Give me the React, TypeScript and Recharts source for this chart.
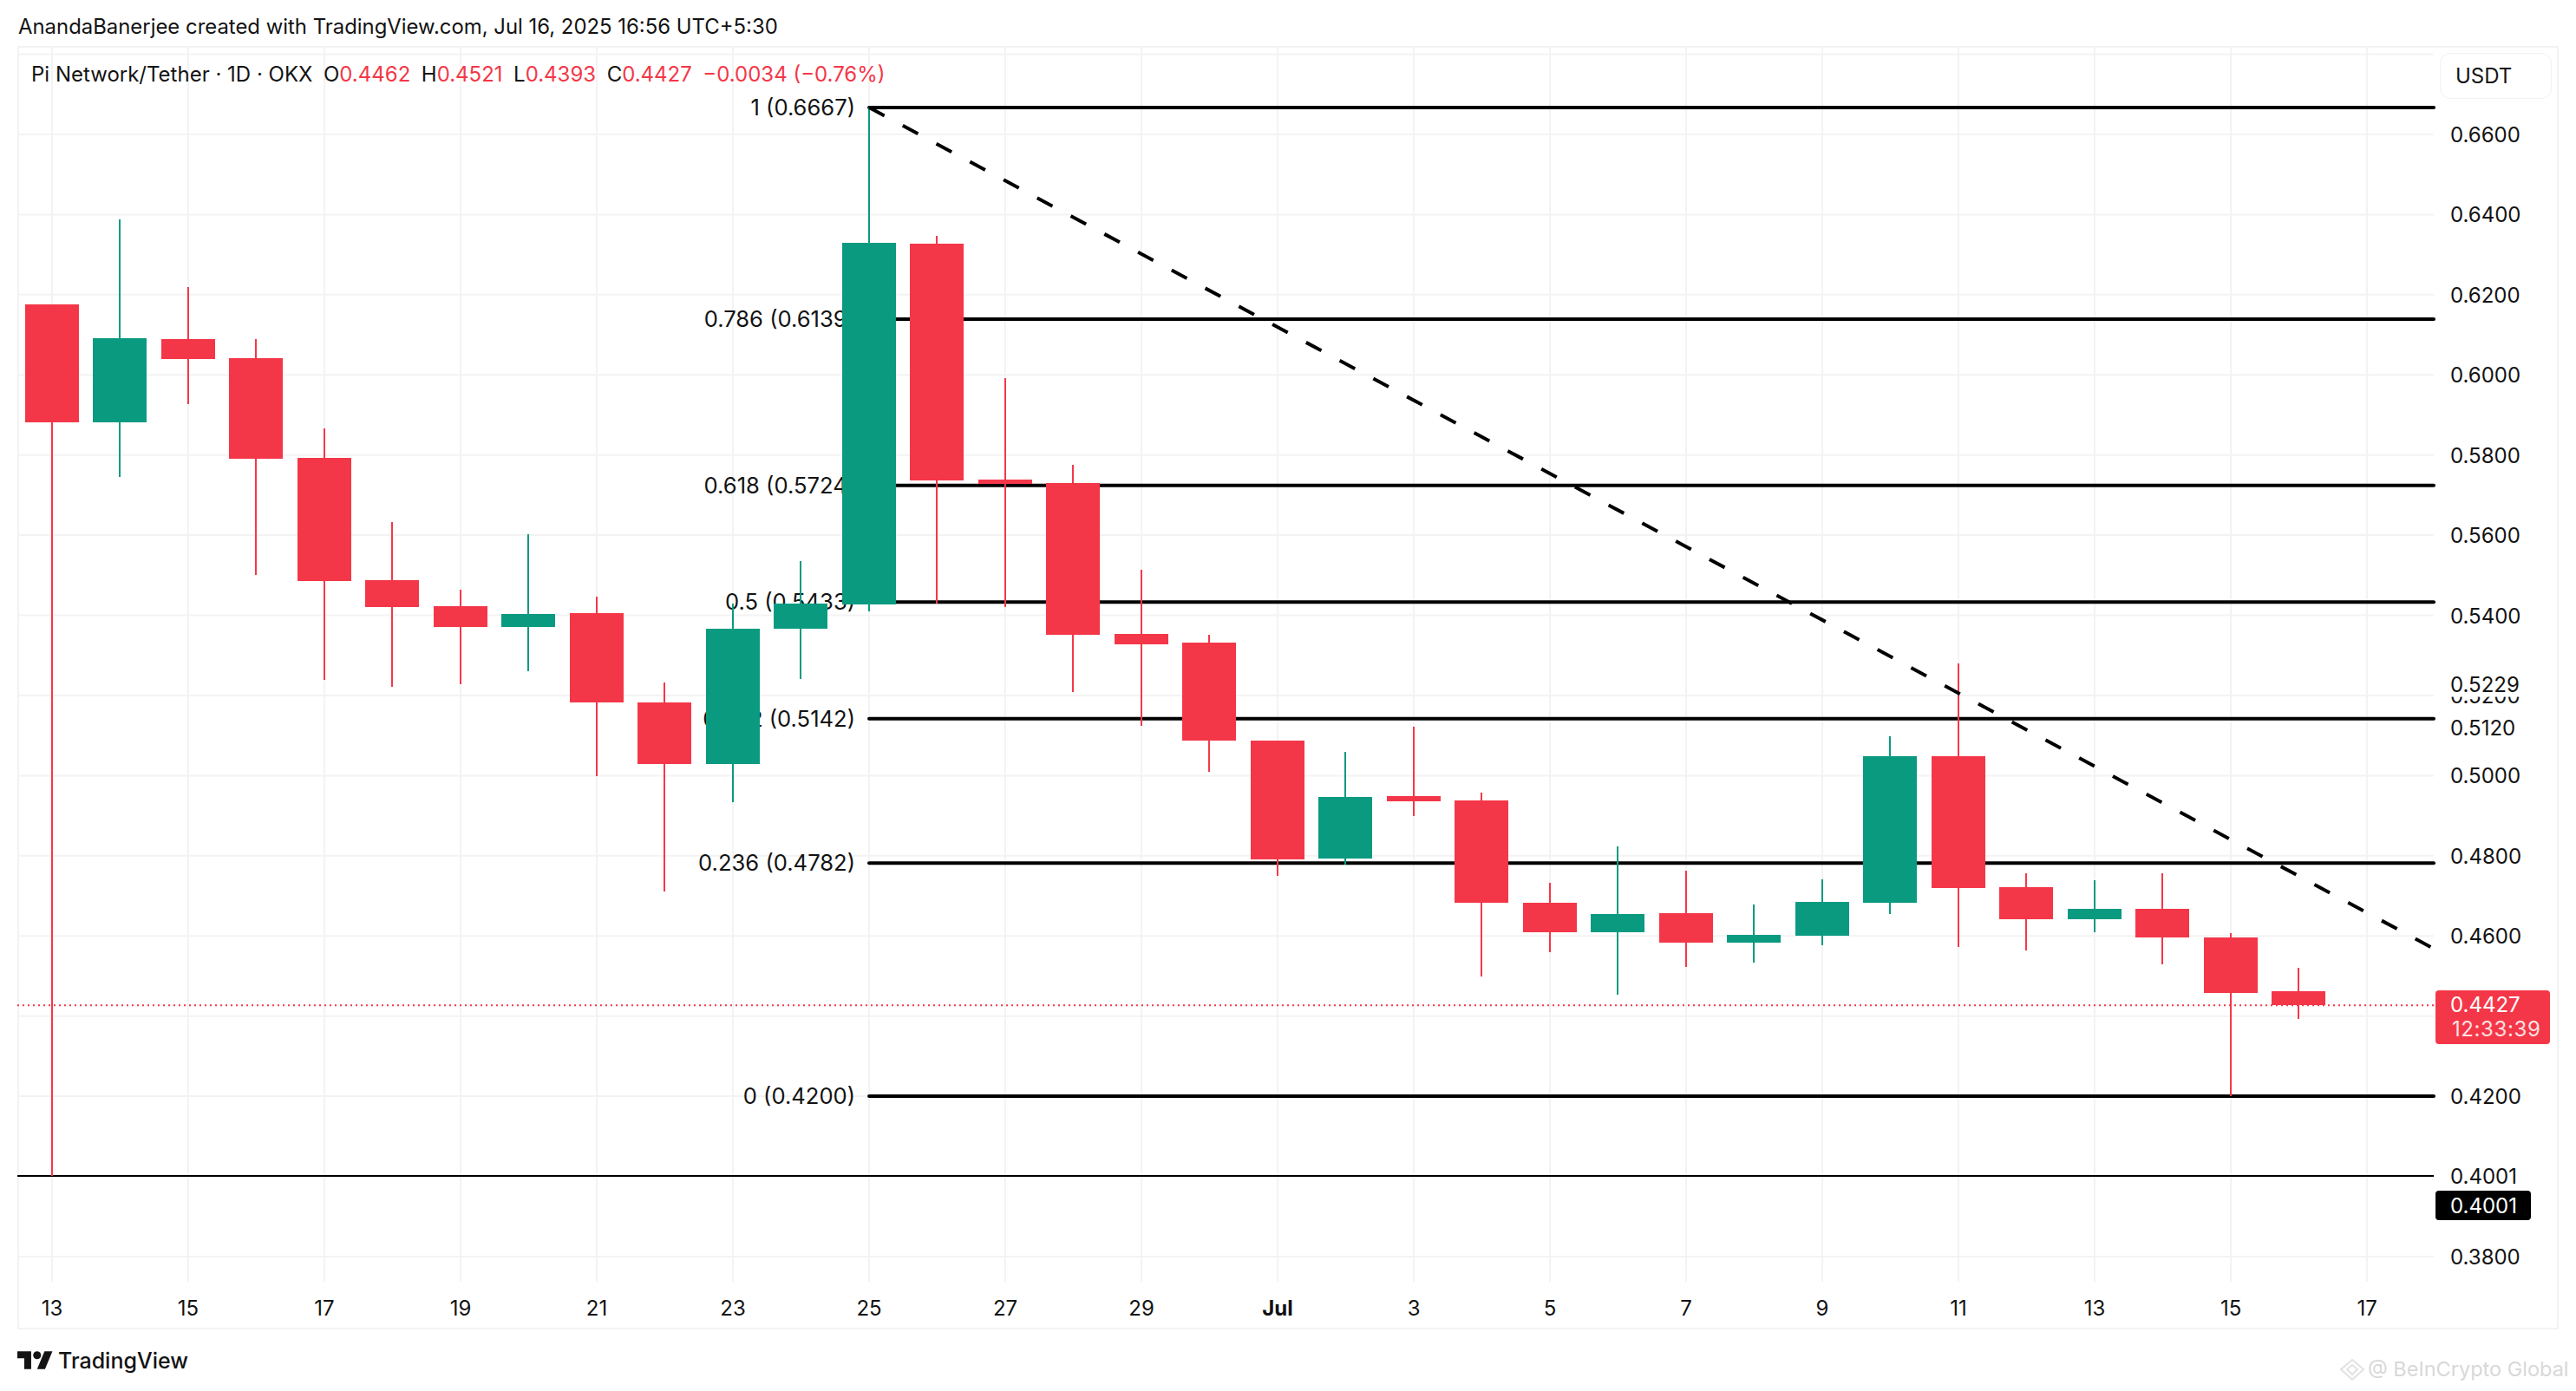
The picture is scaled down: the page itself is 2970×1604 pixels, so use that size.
import { BarChart, Bar, XAxis, YAxis, CartesianGrid, ReferenceLine } from 'recharts';

const UP = '#0A9A80';
const DOWN = '#F43748';
const FONT = 'Inter, "Liberation Sans", sans-serif';

// one entry per daily candle, Jun 13 -> Jul 16
const days = Array.from({ length: 34 }, (_, i) => i);
const opens = [0.6176, 0.5882, 0.6089, 0.6042, 0.5793, 0.5488, 0.5423, 0.5371, 0.5406, 0.5183, 0.5029, 0.5367, 0.5427, 0.6327, 0.5739, 0.573, 0.5354, 0.5332, 0.5088, 0.4793, 0.4949, 0.4938, 0.4683, 0.4609, 0.4657, 0.4583, 0.4601, 0.4683, 0.5049, 0.4722, 0.4642, 0.4668, 0.4596, 0.4462];
const highs = [0.6176, 0.6388, 0.6219, 0.6089, 0.5866, 0.5633, 0.5464, 0.5602, 0.5447, 0.5232, 0.5429, 0.5535, 0.6667, 0.6347, 0.5992, 0.5776, 0.5514, 0.5351, 0.5088, 0.5059, 0.5122, 0.4958, 0.4733, 0.4824, 0.4763, 0.4679, 0.4741, 0.5098, 0.528, 0.4756, 0.4739, 0.4756, 0.4607, 0.4521];
const lows = [0.4001, 0.5745, 0.5927, 0.5501, 0.5239, 0.5222, 0.5228, 0.5261, 0.4999, 0.4711, 0.4934, 0.5241, 0.541, 0.5429, 0.5421, 0.5209, 0.5124, 0.501, 0.475, 0.4778, 0.4899, 0.4499, 0.456, 0.4454, 0.4523, 0.4534, 0.4577, 0.4655, 0.4572, 0.4564, 0.4609, 0.4529, 0.42, 0.4393];
const closes = [0.5882, 0.6092, 0.604, 0.5791, 0.5486, 0.5421, 0.5371, 0.5403, 0.5183, 0.5029, 0.5367, 0.5429, 0.633, 0.5737, 0.5728, 0.5351, 0.5328, 0.5088, 0.4791, 0.4947, 0.4936, 0.4683, 0.4609, 0.4655, 0.4583, 0.4603, 0.4685, 0.5049, 0.472, 0.4642, 0.4668, 0.4596, 0.4458, 0.4427];

const candles = days.map((day, i) => ({ day, open: opens[i], high: highs[i], low: lows[i], close: closes[i] }));

const xTicks = [0, 2, 4, 6, 8, 10, 12, 14, 16, 18, 20, 22, 24, 26, 28, 30, 32, 34];
const xLabels = ['13', '15', '17', '19', '21', '23', '25', '27', '29', 'Jul', '3', '5', '7', '9', '11', '13', '15', '17'];
const gridPrices = [0.38, 0.4, 0.42, 0.44, 0.46, 0.48, 0.5, 0.52, 0.54, 0.56, 0.58, 0.6, 0.62, 0.64, 0.66, 0.68];
// 0.52 goes first so the two neighbours can paint over it
const yTicks = [0.52, 0.38, 0.4001, 0.42, 0.46, 0.48, 0.5, 0.512, 0.5229, 0.54, 0.56, 0.58, 0.6, 0.62, 0.64, 0.66];

const fibLevels = ['1', '0.786', '0.618', '0.5', '0.382', '0.236', '0'];
const fibPrices = [0.6667, 0.6139, 0.5724, 0.5433, 0.5142, 0.4782, 0.42];

const xDomain = [-0.51, 34.98];
const yDomain = [0.37372, 0.68185];
const fibStart = 12;
const trendStart = { x: 12, y: 0.6667 };
const trendEnd = { x: 34.94, y: 0.4572 };
const lastClose = 0.4427;
const swingLow = 0.4001;

const Candle = (props: any) => {
  const { x, y, width, height, payload } = props;
  const top = Math.min(y, y + height);
  const span = Math.abs(height);
  const perUnit = span / (payload.high - payload.low);
  const bodyHigh = Math.max(payload.open, payload.close);
  const bodyLow = Math.min(payload.open, payload.close);
  const bodyTop = top + (payload.high - bodyHigh) * perUnit;
  const bodyHeight = Math.max((bodyHigh - bodyLow) * perUnit, 1);
  const color = payload.close >= payload.open ? UP : DOWN;
  return (
    <g shapeRendering="crispEdges">
      <rect x={x + width / 2 - 1} y={top} width={2} height={span} fill={color} />
      <rect x={x} y={bodyTop} width={width} height={bodyHeight} fill={color} />
    </g>
  );
};

const PriceTick = (props: any) => {
  const { x, y, payload } = props;
  const masked = payload.value === 0.512 || payload.value === 0.5229;
  return (
    <g>
      {masked && <rect x={x - 4} y={y - 15} width={100} height={30} fill="#fff" />}
      <text x={x} y={y} dy={9} fontFamily={FONT} fontSize={24} fill="#131313">
        {payload.value.toFixed(4)}
      </text>
    </g>
  );
};

const DayTick = (props: any) => {
  const { x, payload, index } = props;
  const label = xLabels[index];
  return (
    <text x={x} y={1517} textAnchor="middle" fontFamily={FONT} fontSize={24} fontWeight={label === 'Jul' ? 700 : 400} fill="#131313">
      {label}
    </text>
  );
};

const abs = (left: number, top: number, extra: any = {}) => ({
  position: 'absolute' as const, left, top, fontFamily: FONT, fontSize: 24, lineHeight: '30px', whiteSpace: 'nowrap' as const, color: '#131313', ...extra,
});

const red = { color: DOWN };

export default function App() {
  return (
    <div style={{ position: 'absolute', left: 0, top: 0, width: 2970, height: 1604, background: '#fff', overflow: 'hidden' }}>
      <div style={{ position: 'absolute', left: 20, top: 53, width: 2930, height: 1480, border: '2px solid #f3f3f3', boxSizing: 'border-box' }} />

      <BarChart
        width={2970}
        height={1604}
        data={candles}
        margin={{ top: 54, right: 20, bottom: 71, left: 20 }}
        style={{ position: 'absolute', left: 0, top: 0 }}
      >
        <CartesianGrid stroke="#f3f3f4" strokeWidth={2} horizontalValues={gridPrices} verticalValues={xTicks} />
        <XAxis dataKey="day" type="number" domain={xDomain} ticks={xTicks} interval={0} allowDataOverflow height={55} axisLine={false} tickLine={false} tick={<DayTick />} />
        <YAxis orientation="right" type="number" domain={yDomain} ticks={yTicks} interval={0} allowDataOverflow width={144} axisLine={false} tickLine={false} tickSize={0} tickMargin={19} tick={<PriceTick />} />

        <ReferenceLine y={swingLow} stroke="#000" strokeWidth={2} zIndex={150} />
        <ReferenceLine y={lastClose} stroke={DOWN} strokeWidth={2} strokeDasharray="2 4" zIndex={150} />
        {fibPrices.map((price, i) => (
          <ReferenceLine
            key={fibLevels[i]}
            segment={[{ x: fibStart, y: price }, { x: xDomain[1], y: price }]}
            stroke="#000"
            strokeWidth={4}
            strokeLinecap="round"
            zIndex={150}
            label={{ value: `${fibLevels[i]} (${price.toFixed(4)})`, position: 'left', offset: 16, fill: '#131313', fontSize: 25.6, fontFamily: FONT, zIndex: 150 }}
          />
        ))}

        <Bar dataKey={(d: any) => [d.low, d.high]} barSize={62} shape={<Candle />} isAnimationActive={false} />

        <ReferenceLine segment={[trendStart, trendEnd]} stroke="#000" strokeWidth={4} strokeDasharray="20 24" zIndex={800} />
      </BarChart>

      <div style={abs(21, 16, { fontSize: 23.9 })}>AnandaBanerjee created with TradingView.com, Jul 16, 2025 16:56 UTC+5:30</div>

      <div style={abs(36, 71)}>
        Pi Network/Tether · 1D · OKX
        <span style={{ marginLeft: 12.5 }}>O</span><span style={red}>0.4462</span>
        <span style={{ marginLeft: 12.5 }}>H</span><span style={red}>0.4521</span>
        <span style={{ marginLeft: 12.5 }}>L</span><span style={red}>0.4393</span>
        <span style={{ marginLeft: 12.5 }}>C</span><span style={red}>0.4427</span>
        <span style={{ marginLeft: 12.5, ...red }}>−0.0034 (−0.76%)</span>
      </div>

      <div style={{ position: 'absolute', left: 2813, top: 61, width: 129, height: 53, boxSizing: 'border-box', border: '1px solid #f2f2f2', borderRadius: 12 }} />
      <div style={abs(2831, 73)}>USDT</div>

      <div style={{ position: 'absolute', left: 2808, top: 1142, width: 132, height: 62, background: DOWN, borderRadius: 4 }} />
      <div style={abs(2825, 1144, { color: '#fff' })}>0.4427</div>
      <div style={abs(2827, 1172, { color: '#fff', opacity: 0.85, letterSpacing: 0.6 })}>12:33:39</div>

      <div style={{ position: 'absolute', left: 2808, top: 1373, width: 110, height: 34, background: '#000', borderRadius: 4 }} />
      <div style={abs(2825, 1376, { color: '#fff' })}>0.4001</div>

      <svg style={{ position: 'absolute', left: 20, top: 1557 }} width={41} height={23} viewBox="0 4 36 18">
        <path d="M14 22H7V11H0V4h14v18zM28 22h-8l7.5-18h8L28 22z" fill="#131313" />
        <circle cx={20} cy={8} r={4} fill="#131313" />
      </svg>
      <div style={abs(67, 1554, { fontSize: 25, fontWeight: 500 })}>TradingView</div>

      <svg style={{ position: 'absolute', left: 2697, top: 1566 }} width={30} height={28} viewBox="0 0 30 28">
        <path d="M15 2 L28 13 L15 25 L2 13 Z M15 8 L21 13 L15 19 L9 13 Z" fill="none" stroke="#e2e2e2" strokeWidth={2} />
      </svg>
      <div style={abs(2730, 1564, { color: '#d8d8d8', fontSize: 23.5 })}>@ BeInCrypto Global</div>
    </div>
  );
}
